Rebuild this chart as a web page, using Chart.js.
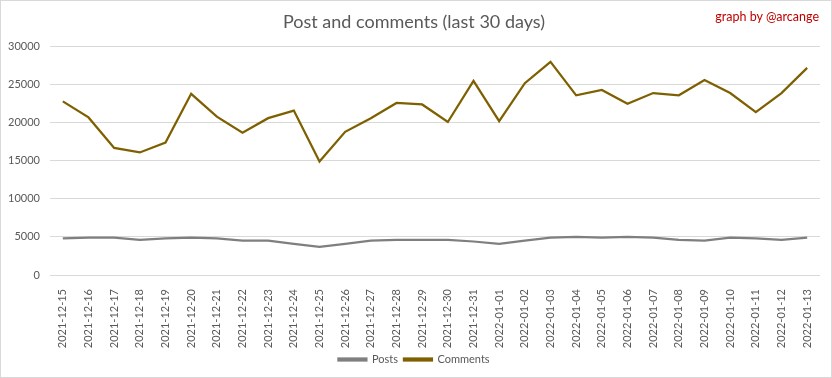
<!DOCTYPE html>
<html><head><meta charset="utf-8">
<script src="https://cdn.jsdelivr.net/npm/chart.js@4"></script>
<style>
html,body{margin:0;padding:0;background:#fff;}
#wrap{position:relative;width:830px;height:376px;border:1px solid #d9d9d9;}
#credit{position:absolute;right:12px;top:8px;font-family:Lato,"Open Sans",sans-serif;font-size:12.5px;color:#c00000;}
canvas{display:block;}
</style></head>
<body>
<div id="wrap"><canvas id="c" width="830" height="376"></canvas><div id="credit">graph by @arcange</div></div>
<script>
const dates = ["2021-12-15","2021-12-16","2021-12-17","2021-12-18","2021-12-19","2021-12-20","2021-12-21","2021-12-22","2021-12-23","2021-12-24","2021-12-25","2021-12-26","2021-12-27","2021-12-28","2021-12-29","2021-12-30","2021-12-31","2022-01-01","2022-01-02","2022-01-03","2022-01-04","2022-01-05","2022-01-06","2022-01-07","2022-01-08","2022-01-09","2022-01-10","2022-01-11","2022-01-12","2022-01-13"];
const posts = [4800,4900,4900,4600,4800,4900,4800,4500,4500,4100,3700,4100,4500,4600,4600,4600,4400,4100,4500,4900,5000,4900,5000,4900,4600,4500,4900,4800,4600,4900];
const comments = [22800,20700,16700,16100,17400,23800,20800,18700,20600,21600,14900,18800,20600,22600,22400,20100,25500,20200,25200,28000,23600,24300,22500,23900,23600,25600,23900,21400,23900,27200];
const yTicks = [0,5000,10000,15000,20000,25000,30000];
const FONT = 'Lato, "Open Sans", sans-serif';
new Chart(document.getElementById('c'), {
  type: 'line',
  data: {
    labels: dates,
    datasets: [
      {label:'Posts', data: posts, borderColor:'#7f7f7f', backgroundColor:'#7f7f7f', borderWidth:2.25, pointRadius:0, tension:0},
      {label:'Comments', data: comments, borderColor:'#7f6000', backgroundColor:'#7f6000', borderWidth:2.25, pointRadius:0, tension:0}
    ]
  },
  options: {
    responsive:false, animation:false,
    layout:{padding:{left:7,right:11,top:8,bottom:2}},
    plugins:{
      title:{display:true,text:'Post and comments (last 30 days)',color:'#595959',font:{family:FONT,size:18,weight:'normal'},padding:{top:2,bottom:14}},
      legend:{position:'bottom',labels:{color:'#595959',font:{family:FONT,size:11},boxWidth:28,boxHeight:2,padding:6}},
      tooltip:{enabled:false}
    },
    scales:{
      x:{offset:true,grid:{display:false},border:{display:false},
         afterFit:(s)=>{s.height=73;},
         ticks:{color:'#595959',font:{family:FONT,size:11},minRotation:90,maxRotation:90,autoSkip:false,padding:6}},
      y:{min:0,max:30000,afterBuildTicks:(s)=>{s.ticks=yTicks.map(v=>({value:v}));},
         afterFit:(s)=>{s.width=42;},
         grid:{color:'#d9d9d9',drawTicks:false},border:{display:false},
         ticks:{color:'#595959',font:{family:FONT,size:11},padding:10,callback:(v)=>String(v)}}
    }
  }
});
</script>
</body></html>
